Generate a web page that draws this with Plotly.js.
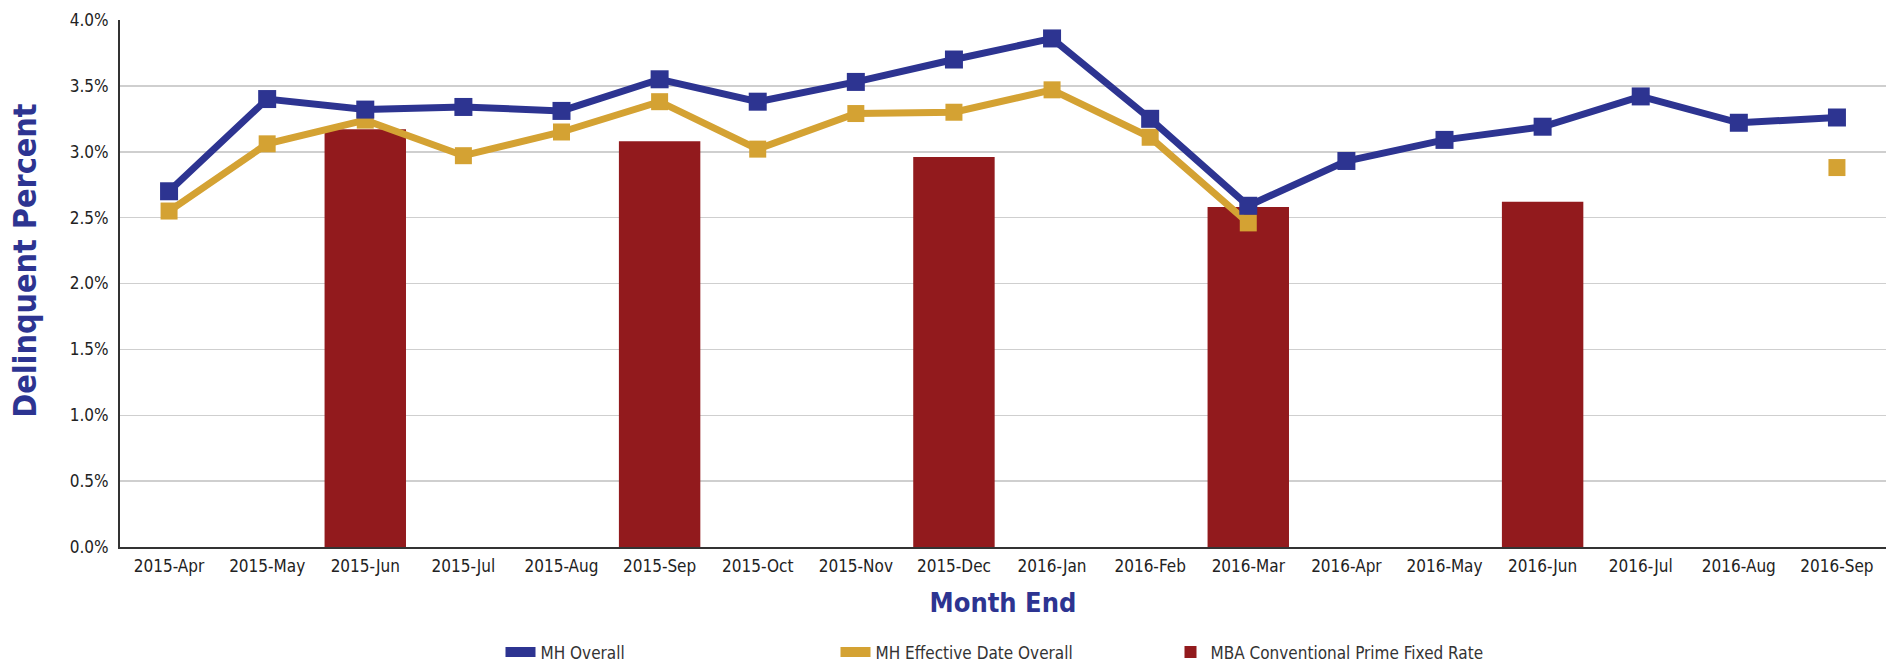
<!DOCTYPE html>
<html>
<head>
<meta charset="utf-8">
<script src="https://cdn.plot.ly/plotly-3.0.1.min.js"></script>
<style>html,body{margin:0;padding:0;background:#fff;}#chart{width:1896px;height:666px;}</style>
</head>
<body>
<div id="chart"></div>
<script>
const months = ["2015-Apr","2015-May","2015-Jun","2015-Jul","2015-Aug","2015-Sep","2015-Oct","2015-Nov","2015-Dec","2016-Jan","2016-Feb","2016-Mar","2016-Apr","2016-May","2016-Jun","2016-Jul","2016-Aug","2016-Sep"];
const mhOverall = [2.70,3.40,3.32,3.34,3.31,3.55,3.38,3.53,3.70,3.86,3.25,2.59,2.93,3.09,3.19,3.42,3.22,3.26];
const mhEffective = [2.55,3.06,3.24,2.97,3.15,3.38,3.02,3.29,3.30,3.47,3.11,2.46,null,null,null,null,null,2.88];
const mbaPrime = [null,null,3.17,null,null,3.08,null,null,2.96,null,null,2.58,null,null,2.62,null,null,null];
const yTickVals = [0,0.5,1,1.5,2,2.5,3,3.5,4];
const yTickText = ["0.0%","0.5%","1.0%","1.5%","2.0%","2.5%","3.0%","3.5%","4.0%"];

const BLUE = "#2d3491", GOLD = "#d4a233", RED = "#921a1d";
const FONT = "DejaVu Sans Condensed, DejaVu Sans, sans-serif";

const traces = [
  {type:"bar", x:months, y:mbaPrime, marker:{color:RED}, showlegend:false},
  {type:"scatter", mode:"lines+markers", x:months, y:mhEffective, connectgaps:false,
   line:{color:GOLD, width:7}, marker:{color:GOLD, symbol:"square", size:17}, showlegend:false},
  {type:"scatter", mode:"lines+markers", x:months, y:mhOverall,
   line:{color:BLUE, width:7}, marker:{color:BLUE, symbol:"square", size:18}, showlegend:false},
  {type:"scatter", mode:"lines", x:[months[0]], y:[null], name:"MH Overall", line:{color:BLUE, width:12}, legendrank:1},
  {type:"scatter", mode:"lines", x:[months[0]], y:[null], name:"MH Effective Date Overall", line:{color:GOLD, width:12}, legendrank:2},
  {type:"bar", x:[months[0]], y:[null], name:"MBA Conventional Prime Fixed Rate", marker:{color:RED}, legendrank:3}
];

const layout = {
  width:1896, height:666,
  margin:{l:120, r:10, t:20, b:119, autoexpand:false},
  paper_bgcolor:"#ffffff", plot_bgcolor:"#ffffff",
  font:{family:FONT, size:17, color:"#222"},
  barmode:"overlay",
  bargap:0.17,
  xaxis:{type:"category", categoryorder:"array", categoryarray:months, range:[-0.5, months.length-0.5],
    showline:true, linecolor:"#333", linewidth:2, showgrid:false, zeroline:false,
    ticks:"outside", ticklen:3, tickcolor:"rgba(0,0,0,0)", tickfont:{family:FONT, size:17, color:"#222"},
    title:{text:"Month End", font:{family:FONT, size:27, color:BLUE, weight:"bold"}, standoff:18}},
  yaxis:{range:[0,4], tickvals:yTickVals, ticktext:yTickText,
    showline:true, linecolor:"#333", linewidth:2, showgrid:true, gridcolor:"#cfcfcf", gridwidth:1.5, zeroline:false,
    ticks:"outside", ticklen:6, tickcolor:"rgba(0,0,0,0)", tickfont:{family:FONT, size:17, color:"#222"}},
  annotations:[{text:"Delinquent Percent", xref:"paper", yref:"paper", x:-0.0538, y:0.545,
    xanchor:"center", yanchor:"middle", textangle:-90, showarrow:false,
    font:{family:FONT, size:32, color:BLUE, weight:"bold"}}],
  legend:{orientation:"h", x:0.5, xanchor:"center", y:-0.2, yanchor:"middle",
    font:{family:FONT, size:17, color:"#333"}, entrywidth:290, itemwidth:30, traceorder:"normal"},
  showlegend:true
};

Plotly.newPlot("chart", traces, layout, {displayModeBar:false, staticPlot:true});
</script>
</body>
</html>
